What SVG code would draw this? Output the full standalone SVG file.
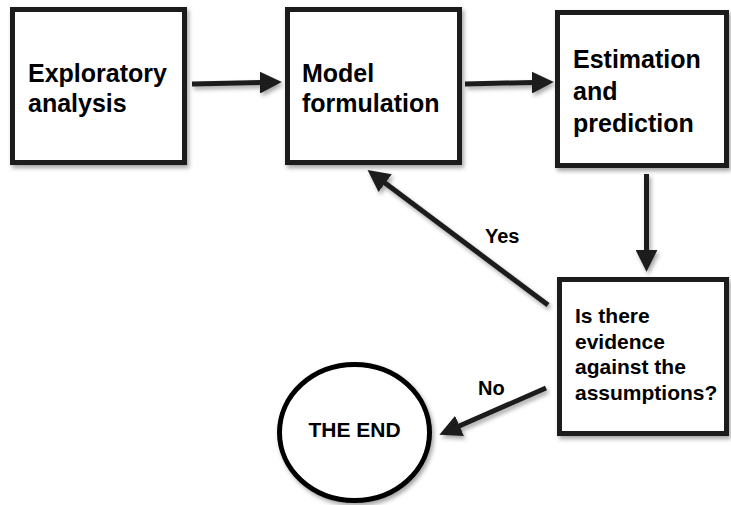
<svg xmlns="http://www.w3.org/2000/svg" width="731" height="505" viewBox="0 0 731 505">
<style>
.box{fill:#fff;stroke:#1c1c1c;stroke-width:5;filter:url(#sh)}
.t{font-family:"Liberation Sans",Arial,Helvetica,sans-serif;font-weight:bold;fill:#000}
.big{font-size:25px}
.mid{font-size:21px}
.lbl{font-size:20px}
.c{stroke:#1c1c1c;stroke-width:5;fill:none;marker-end:url(#ah)}
</style>
<defs>
<filter id="sh" filterUnits="userSpaceOnUse" x="0" y="0" width="731" height="505">
<feDropShadow dx="2" dy="3" stdDeviation="2" flood-color="#000" flood-opacity="0.35"/>
</filter>
<marker id="ah" markerUnits="userSpaceOnUse" markerWidth="22" markerHeight="22" viewBox="0 0 20 20" refX="2" refY="10" orient="auto">
<path d="M0,0 L20,10 L0,20 z" fill="#1c1c1c"/>
</marker>
</defs>
<rect width="731" height="505" fill="#fff"/>
<g id="connectors" filter="url(#sh)">
<line class="c" x1="192" y1="84" x2="262" y2="82.4"/>
<line class="c" x1="465" y1="84" x2="534" y2="82.4"/>
<line class="c" x1="646.5" y1="174" x2="646.5" y2="252"/>
<line class="c" x1="548" y1="305" x2="383.4" y2="181.8"/>
<line class="c" x1="546" y1="388" x2="457.5" y2="426.8"/>
</g>
<g id="labels">
<text class="t lbl" x="485" y="243">Yes</text>
<text class="t lbl" x="478" y="395">No</text>
</g>
<g id="exploratory">
<rect class="box" x="12.5" y="9.5" width="172" height="153"/>
<text class="t big" x="28" y="82">Exploratory</text>
<text class="t big" x="28" y="112">analysis</text>
</g>
<g id="model">
<rect class="box" x="287.5" y="9.5" width="172" height="153"/>
<text class="t big" x="302" y="82">Model</text>
<text class="t big" x="302" y="112">formulation</text>
</g>
<g id="estimation">
<rect class="box" x="557.5" y="12.5" width="169" height="153"/>
<text class="t big" x="573" y="68">Estimation</text>
<text class="t big" x="573" y="100">and</text>
<text class="t big" x="573" y="132">prediction</text>
</g>
<g id="evidence">
<rect class="box" x="559.5" y="279.5" width="167" height="154"/>
<text class="t mid" x="575" y="323">Is there</text>
<text class="t mid" x="575" y="348.5">evidence</text>
<text class="t mid" x="575" y="374">against the</text>
<text class="t mid" x="575" y="399.5">assumptions?</text>
</g>
<g id="end">
<ellipse cx="354.5" cy="432.5" rx="75" ry="68" fill="#fff" stroke="#000" stroke-width="5" filter="url(#sh)"/>
<text class="t mid" x="354.5" y="437" text-anchor="middle">THE END</text>
</g>
</svg>
